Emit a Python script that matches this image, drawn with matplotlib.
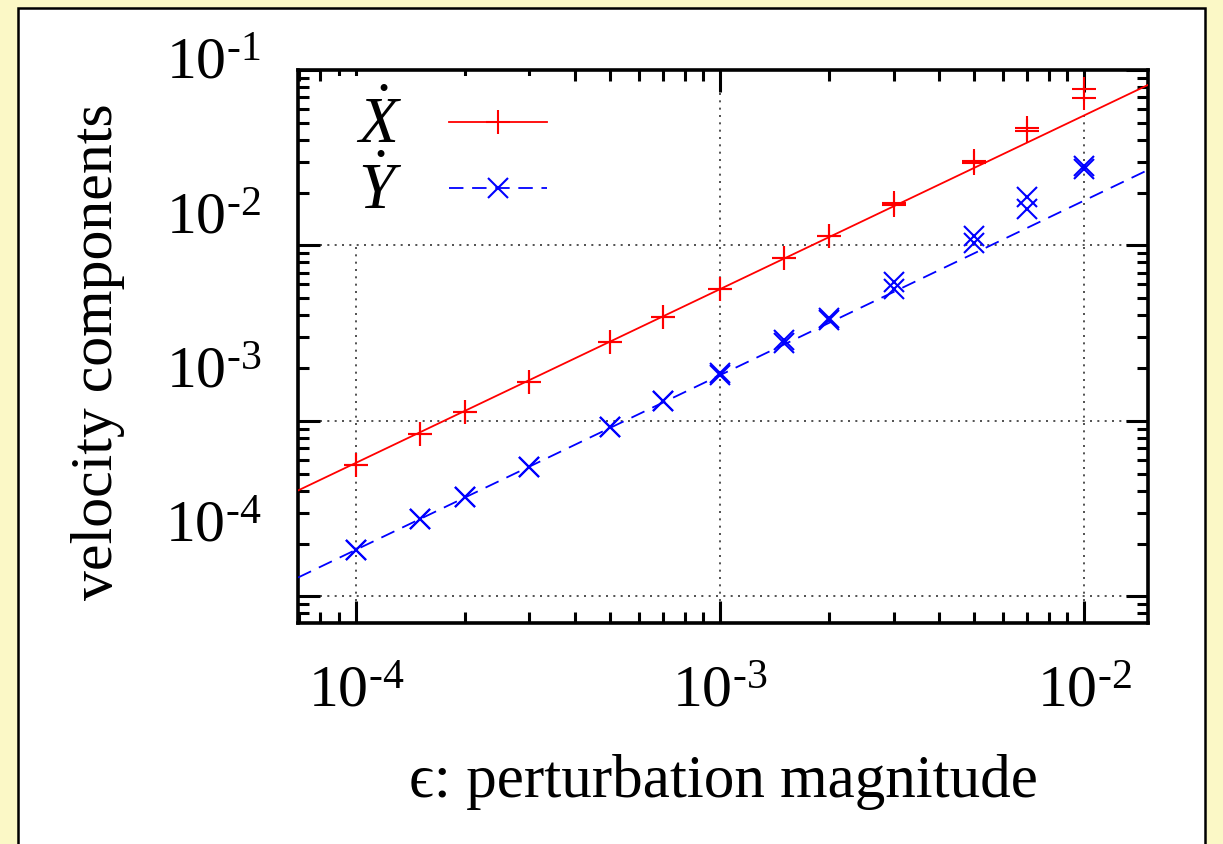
import numpy as np
import matplotlib
matplotlib.use("Agg")
import matplotlib.pyplot as plt
import matplotlib.transforms as mtransforms
from matplotlib.patches import Rectangle
from matplotlib.lines import Line2D
from matplotlib.ticker import LogLocator, NullFormatter, FixedLocator

# ---- measured data -------------------------------------------------------
eps = [1e-4, 1.5e-4, 2e-4, 3e-4, 5e-4, 7e-4, 1e-3,
       1.5e-3, 2e-3, 3e-3, 5e-3, 7e-3, 1e-2]

# two runs per velocity component
xdot_run1 = [5.58e-4, 8.39e-4, 1.119e-3, 1.66e-3, 2.81e-3, 3.90e-3, 5.64e-3,
             8.46e-3, 1.13e-2, 1.743e-2, 3.03e-2, 4.67e-2, 7.79e-2]
xdot_run2 = [5.58e-4, 8.39e-4, 1.119e-3, 1.66e-3, 2.81e-3, 3.90e-3, 5.64e-3,
             8.46e-3, 1.13e-2, 1.70e-2, 2.95e-2, 4.49e-2, 6.92e-2]

ydot_run1 = [1.828e-4, 2.746e-4, 3.667e-4, 5.436e-4, 9.19e-4, 1.294e-3, 1.868e-3,
             2.88e-3, 3.85e-3, 6.17e-3, 1.13e-2, 1.886e-2, 2.834e-2]
ydot_run2 = [1.828e-4, 2.746e-4, 3.667e-4, 5.436e-4, 9.19e-4, 1.294e-3, 1.82e-3,
             2.77e-3, 3.75e-3, 5.64e-3, 1.03e-2, 1.61e-2, 2.72e-2]

# power-law fits  v = amp * (eps / 1e-3) ** slope
xdot_fit_amp, xdot_fit_slope = 5.63e-3, 0.990
ydot_fit_amp, ydot_fit_slope = 1.82e-3, 0.995

x_ticks = [1e-4, 1e-3, 1e-2]
y_ticks = [1e-4, 1e-3, 1e-2, 1e-1]
x_tick_labels = [r"$10^{\text{-}4}$", r"$10^{\text{-}3}$", r"$10^{\text{-}2}$"]
y_tick_labels = [r"$10^{\text{-}4}$", r"$10^{\text{-}3}$", r"$10^{\text{-}2}$", r"$10^{\text{-}1}$"]

x_label = "\u03f5: perturbation magnitude"
y_label = "velocity components"
legend_labels = [r"$\dot{X}$", r"$\dot{Y}$"]

# ---- style ---------------------------------------------------------------
plt.rcParams["font.family"] = ["Liberation Serif", "DejaVu Serif"]
plt.rcParams["mathtext.fontset"] = "custom"
plt.rcParams["mathtext.rm"] = "Liberation Serif"
plt.rcParams["mathtext.it"] = "Liberation Serif:italic"
plt.rcParams["mathtext.bf"] = "Liberation Serif:bold"

W, H = 1223, 844
fig = plt.figure(figsize=(W / 100, H / 100), dpi=100)
fig.patch.set_facecolor("#fbf8c6")

panel = Rectangle((18 / W, -0.05), (1205 - 18) / W, 1.05 - 8 / H,
                  transform=fig.transFigure, facecolor="white",
                  edgecolor="black", linewidth=1.8, zorder=-1)
fig.add_artist(panel)

ax = fig.add_axes([298 / W, 1 - 623 / H, (1148 - 298) / W, (623 - 70) / H])
ax.set_xscale("log")
ax.set_yscale("log")
ax.set_xlim(6.94e-5, 1.50e-2)
ax.set_ylim(7.05e-5, 1e-1)

RED, BLUE = "#ff0000", "#0000ff"
LW = 1.3
DASH = (8, 4.8)

# fit lines
eps_line = np.geomspace(*ax.get_xlim(), 200)
ax.plot(eps_line, xdot_fit_amp * (eps_line / 1e-3) ** xdot_fit_slope,
        color=RED, lw=LW, zorder=3)
ax.plot(eps_line, ydot_fit_amp * (eps_line / 1e-3) ** ydot_fit_slope,
        color=BLUE, lw=LW, dashes=DASH, zorder=3)

# measured points
for run in (xdot_run1, xdot_run2):
    ax.plot(eps, run, linestyle="none", marker="+", ms=17, mew=1.5,
            color=RED, zorder=4)
for run in (ydot_run1, ydot_run2):
    ax.plot(eps, run, linestyle="none", marker="x", ms=15, mew=1.5,
            color=BLUE, zorder=4)

# grid at decades only
ax.xaxis.set_major_locator(FixedLocator(x_ticks))
ax.yaxis.set_major_locator(FixedLocator(y_ticks))
ax.xaxis.set_minor_locator(LogLocator(base=10, subs=np.arange(2, 10)))
ax.yaxis.set_minor_locator(LogLocator(base=10, subs=np.arange(2, 10)))
ax.xaxis.set_minor_formatter(NullFormatter())
ax.yaxis.set_minor_formatter(NullFormatter())
ax.grid(True, which="major", color="#333333", linestyle=(0, (1.2, 3.2)),
        linewidth=1.2, zorder=1)
ax.set_axisbelow(True)

ax.tick_params(which="both", direction="in", top=True, right=True,
               color="black", width=2.2)
ax.tick_params(which="major", length=16)
ax.tick_params(which="minor", length=8)
for s in ax.spines.values():
    s.set_linewidth(2.6)

TICK_FS = 43
ax.set_xticklabels(x_tick_labels, fontsize=TICK_FS)
ax.tick_params(axis="x", which="major", pad=31)
ax.set_yticklabels([])

# y tick labels, set slightly above their decade lines
ytrans = mtransforms.blended_transform_factory(ax.transAxes, ax.transData)
for k, (v, lab) in enumerate(zip(y_ticks, y_tick_labels)):
    rise = 68.5 - 21.2 * k
    t = mtransforms.offset_copy(ytrans, fig=fig, x=-37, y=rise, units="dots")
    ax.text(0, v, lab, transform=t, ha="right", va="center", fontsize=TICK_FS)

ax.set_xlabel(x_label, fontsize=44)
ax.xaxis.label.set_va("baseline")
ax.xaxis.set_label_coords(0.5, (623 - 797) / 553)

ax.set_ylabel(y_label, fontsize=43)
ax.yaxis.label.set_va("center")
ax.yaxis.set_label_coords((98 - 298) / 850, 0.49)

handles = [Line2D([], [], color=RED, lw=LW, marker="+", ms=17, mew=1.5),
           Line2D([], [], color=BLUE, lw=LW, dashes=DASH, marker="x",
                  ms=15, mew=1.5)]
leg = ax.legend(handles, legend_labels, loc="upper left", markerfirst=False,
                fontsize=47, handlelength=1.5, handletextpad=0.72,
                handleheight=0.5, labelspacing=0.06, borderaxespad=0.0,
                borderpad=0.3, bbox_to_anchor=(0.045, 0.99),
                frameon=True, fancybox=False)
leg.get_frame().set_facecolor("white")
leg.get_frame().set_edgecolor("none")
leg.get_frame().set_alpha(1.0)
leg.set_zorder(2)

fig.savefig("out.png", dpi=100, facecolor=fig.get_facecolor())
